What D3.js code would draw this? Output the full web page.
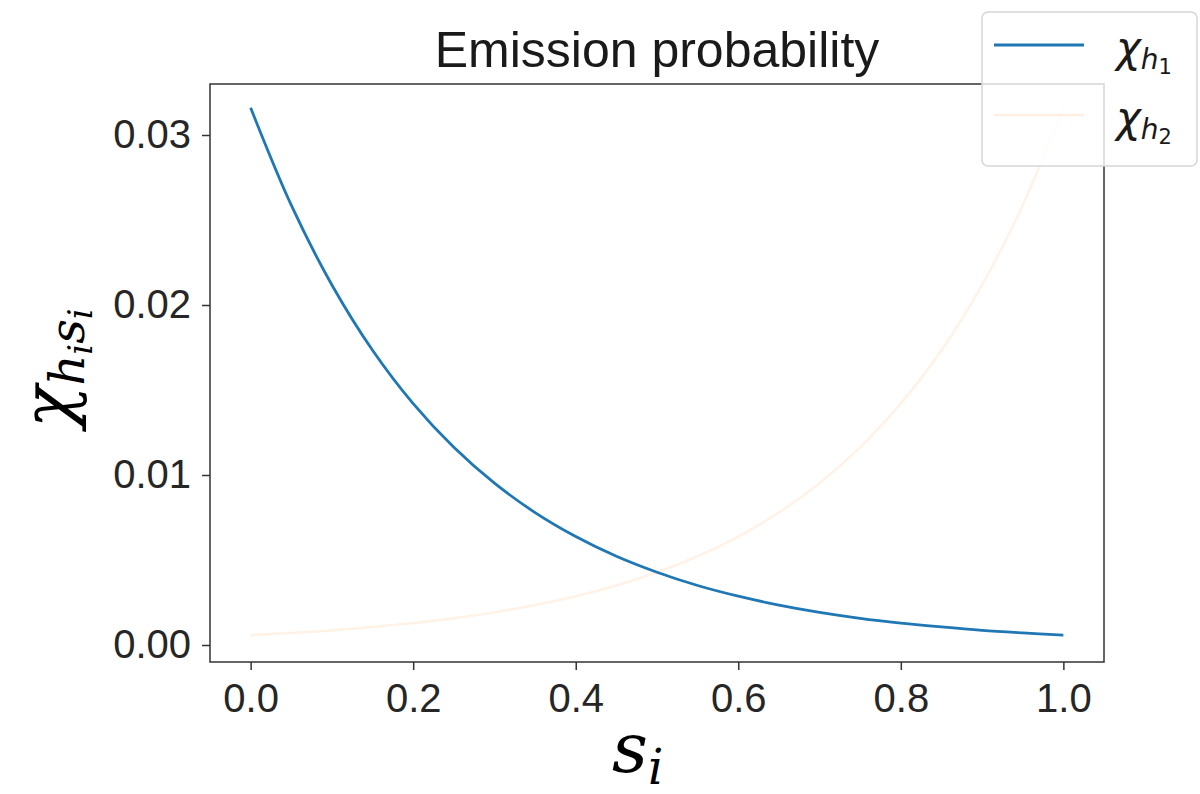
<!DOCTYPE html>
<html>
<head>
<meta charset="utf-8">
<script src="https://cdn.jsdelivr.net/npm/d3@7"></script>
<style>
  body { margin: 0; background: #fff; }
  .tick text { font-family: "Liberation Sans", Arial, sans-serif; fill: #262626; }
</style>
</head>
<body>
<div id="chart"></div>
<script>
// s values read at 0.05 steps
var sValues = [0, 0.05, 0.1, 0.15, 0.2, 0.25, 0.3, 0.35, 0.4, 0.45, 0.5,
               0.55, 0.6, 0.65, 0.7, 0.75, 0.8, 0.85, 0.9, 0.95, 1.0];
var chiH1 = [0.03160, 0.02587, 0.02118, 0.01734, 0.01420, 0.01163, 0.00952, 0.00779, 0.00638, 0.00522, 0.00428,
             0.00350, 0.00287, 0.00235, 0.00192, 0.00157, 0.00129, 0.00106, 0.00086, 0.00071, 0.00058];
var chiH2 = [0.00058, 0.00071, 0.00086, 0.00106, 0.00129, 0.00157, 0.00192, 0.00235, 0.00287, 0.00350, 0.00428,
             0.00522, 0.00638, 0.00779, 0.00952, 0.01163, 0.01420, 0.01734, 0.02118, 0.02587, 0.03160];
var xTicks = [0, 0.2, 0.4, 0.6, 0.8, 1.0];
var yTicks = [0, 0.01, 0.02, 0.03];

var width = 1200, height = 794;
var margin = { left: 210, top: 84, right: 96, bottom: 132 };
var plotW = width - margin.left - margin.right;
var plotH = height - margin.top - margin.bottom;
var serifFont = "DejaVu Serif";

var svg = d3.select("#chart").append("svg")
  .attr("width", width)
  .attr("height", height);

var x = d3.scaleLinear().domain([-0.05, 1.05]).range([0, plotW]);
var y = d3.scaleLinear().domain([-0.001, 0.033]).range([plotH, 0]);

var g = svg.append("g")
  .attr("transform", "translate(" + margin.left + "," + margin.top + ")");

var line = d3.line()
  .x(function(d, i) { return x(sValues[i]); })
  .y(function(d) { return y(d); })
  .curve(d3.curveCatmullRom);

g.append("path")
  .datum(chiH2)
  .attr("d", line)
  .attr("fill", "none")
  .attr("stroke", "#ff7f0e")
  .attr("stroke-opacity", 0.1)
  .attr("stroke-width", 2.5);

g.append("path")
  .datum(chiH1)
  .attr("d", line)
  .attr("fill", "none")
  .attr("stroke", "#1f77b4")
  .attr("stroke-width", 2.8);

// axes
var xAxis = g.append("g")
  .attr("transform", "translate(0," + plotH + ")")
  .call(d3.axisBottom(x).tickValues(xTicks).tickFormat(d3.format(".1f")).tickSize(8).tickPadding(8));
var yAxis = g.append("g")
  .call(d3.axisLeft(y).tickValues(yTicks).tickFormat(d3.format(".2f")).tickSize(8).tickPadding(11));

[xAxis, yAxis].forEach(function(a) {
  a.select(".domain").remove();
  a.selectAll(".tick line").attr("stroke", "#333").attr("stroke-width", 1.5);
  a.selectAll(".tick text").style("font-size", "40px");
});
xAxis.selectAll(".tick text").attr("dy", "0.85em");

g.append("rect")
  .attr("width", plotW)
  .attr("height", plotH)
  .attr("fill", "none")
  .attr("stroke", "#333")
  .attr("stroke-width", 1.5);

// title
svg.append("text")
  .attr("x", margin.left + plotW / 2)
  .attr("y", 67)
  .attr("text-anchor", "middle")
  .style("font-family", "'Liberation Sans', Arial, sans-serif")
  .style("font-size", "50px")
  .style("fill", "#1a1a1a")
  .text("Emission probability");

// x label
var xl = svg.append("text")
  .attr("x", 612)
  .attr("y", 772)
  .attr("font-family", serifFont)
  .attr("font-style", "italic")
  .attr("font-size", 70);
xl.append("tspan").text("s");
xl.append("tspan").attr("dy", 12).attr("font-size", 48).text("i");

// y label
var yl = svg.append("text")
  .attr("transform", "translate(72,428) rotate(-90)")
  .attr("font-family", serifFont)
  .attr("font-style", "italic")
  .attr("font-size", 70);
yl.append("tspan").text("χ");
yl.append("tspan").attr("dy", 12).attr("font-size", 48).text("h");
yl.append("tspan").attr("dy", 8).attr("font-size", 34).text("i");
yl.append("tspan").attr("dy", -8).attr("font-size", 48).text("s");
yl.append("tspan").attr("dy", 8).attr("font-size", 34).text("i");

// legend
var legend = svg.append("g").attr("transform", "translate(982,12)");
legend.append("rect")
  .attr("width", 215)
  .attr("height", 154)
  .attr("rx", 6)
  .attr("fill", "#fff")
  .attr("fill-opacity", 0.8)
  .attr("stroke", "#d6d6d6")
  .attr("stroke-width", 1.5);

var legendItems = [
  { label: "1", color: "#1f77b4", opacity: 1, width: 3 },
  { label: "2", color: "#ff7f0e", opacity: 0.12, width: 2.5 }
];
legendItems.forEach(function(item, i) {
  var ly = 33 + i * 70;
  legend.append("line")
    .attr("x1", 12).attr("x2", 102)
    .attr("y1", ly).attr("y2", ly)
    .attr("stroke", item.color)
    .attr("stroke-opacity", item.opacity)
    .attr("stroke-width", item.width);
  var t = legend.append("text")
    .attr("x", 134)
    .attr("y", ly + 17)
    .style("font-family", "'DejaVu Sans', sans-serif")
    .style("font-style", "italic")
    .style("font-size", "42px")
    .style("fill", "#1a1a1a");
  t.append("tspan").text("χ");
  t.append("tspan").attr("dy", 7).style("font-size", "28px").text("h");
  t.append("tspan").attr("dy", 5).style("font-size", "21px").style("font-style", "normal").text(item.label);
});
</script>
</body>
</html>
